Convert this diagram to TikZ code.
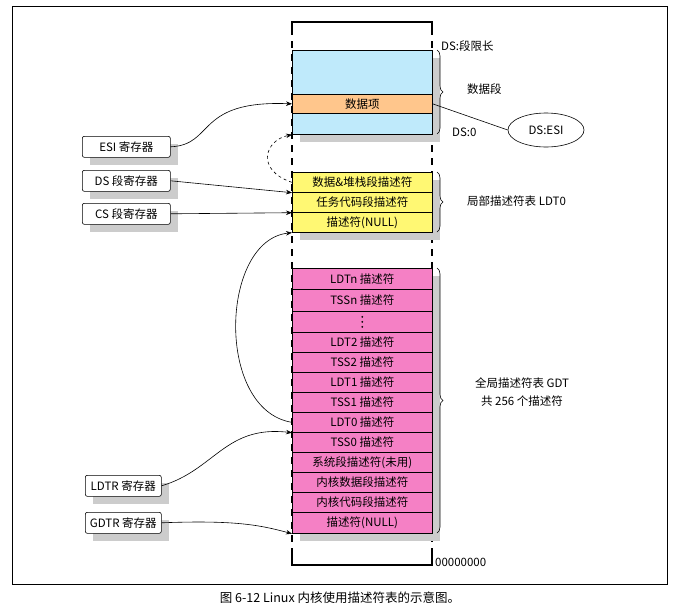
\documentclass[tikz,border=0pt]{standalone}
\usepackage{fontspec}
\setmainfont{Noto Sans CJK SC}
\usetikzlibrary{shapes.geometric,decorations.pathreplacing,arrows.meta}
\begin{document}
\begin{tikzpicture}[x=1pt,y=-1pt,font=\fontsize{11.5}{13}\selectfont,
  shadowc/.style={fill=gray!40,draw=none},
  reg/.style={draw,rounded corners=2pt,fill=white,line width=0.6pt},
  cell/.style={draw,line width=0.7pt,minimum width=140pt,anchor=north west,inner sep=0pt},
  conn/.style={-{Stealth[length=6pt]},line width=0.6pt},
  brc/.style={decorate,decoration={brace,amplitude=6pt},line width=0.6pt}]
\useasboundingbox (0,0) rectangle (683,611);
\draw[line width=0.8pt] (12,6) rectangle (667,584);
\node[font=\fontsize{12.5}{14}\selectfont] (cap) at (340,598) {图 6-12 Linux 内核使用描述符表的示意图。};
% column outline
\draw[line width=1.2pt] (292,28) -- (292,22) -- (432,22) -- (432,28);
\draw[line width=1.2pt,dash pattern=on 7pt off 6pt] (292,28) -- (292,560) (432,28) -- (432,560);
\draw[line width=1.2pt] (292,554) -- (292,565) -- (432,565) -- (432,554);
\node[anchor=west,inner sep=1pt] (zero) at (434,562) {00000000};
% shadows
\fill[shadowc] (300,134) rectangle (440,142);
\fill[shadowc] (432,58) rectangle (440,142);
\fill[shadowc] (300,232) rectangle (440,240);
\fill[shadowc] (432,180) rectangle (440,240);
\fill[shadowc] (300,533) rectangle (440,541);
\fill[shadowc] (432,276) rectangle (440,541);
% data segment
\node[cell,fill=cyan!25,minimum height=44pt] (dtop) at (292,50) {};
\node[cell,fill=orange!45,minimum height=19pt] (ditem) at (292,94) {数据项};
\node[cell,fill=cyan!25,minimum height=21pt] (dbot) at (292,113) {};
% LDT
\node[cell,fill=yellow!55,minimum height=20pt] (l1) at (292,172) {数据\&堆栈段描述符};
\node[cell,fill=yellow!55,minimum height=20pt] (l2) at (292,192) {任务代码段描述符};
\node[cell,fill=yellow!55,minimum height=20pt] (l3) at (292,212) {描述符(NULL)};
% GDT
\def\gcell#1#2#3#4{\node[cell,fill=magenta!50,minimum height=#3pt] (#1) at (292,#2) {#4};}
\gcell{g1}{268}{21}{LDTn 描述符}
\gcell{g2}{289}{22}{TSSn 描述符}
\gcell{g3}{311}{21}{}
\gcell{g4}{332}{20}{LDT2 描述符}
\gcell{g5}{352}{20}{TSS2 描述符}
\gcell{g6}{372}{20}{LDT1 描述符}
\gcell{g7}{392}{20}{TSS1 描述符}
\gcell{g8}{412}{20}{LDT0 描述符}
\gcell{g9}{432}{20}{TSS0 描述符}
\gcell{g10}{452}{20}{系统段描述符(未用)}
\gcell{g11}{472}{20}{内核数据段描述符}
\gcell{g12}{492}{20}{内核代码段描述符}
\gcell{g13}{512}{21}{描述符(NULL)}
\foreach \yy in {-5,0,5} \fill ([yshift=\yy pt]g3.center) circle (1pt);
% registers
\def\reg#1#2#3#4#5{\fill[shadowc] (#2+8,#3+8) rectangle ++(#4,21);
 \node[reg,anchor=north west,minimum width=#4pt,minimum height=21pt,inner sep=0pt] (#1) at (#2,#3) {#5};}
\reg{esi}{82}{136}{88}{ESI 寄存器}
\reg{ds}{82}{170}{88}{DS 段寄存器}
\reg{cs}{82}{203}{88}{CS 段寄存器}
\reg{ldtr}{85}{475}{76}{LDTR 寄存器}
\reg{gdtr}{85}{512}{76}{GDTR 寄存器}
% braces and labels
\draw[brc] (437,50) -- (437,134);
\node[anchor=west,inner sep=1pt] (dsl) at (440,46) {DS:段限长};
\node[anchor=west,inner sep=1pt] (dsz) at (451,132) {DS:0};
\node[anchor=west,inner sep=1pt] (dseg) at (466,89) {数据段};
\draw[brc] (437,172) -- (437,232);
\node[anchor=west,inner sep=1pt] (ldtl) at (466,201) {局部描述符表 LDT0};
\draw[brc] (437,268) -- (437,533);
\node[align=center,font=\fontsize{11.5}{18}\selectfont] (gdtl) at (522,392) {全局描述符表 GDT\\共 256 个描述符};
\node[draw,ellipse,minimum width=76pt,minimum height=34pt,inner sep=0pt,line width=0.6pt] (dsesi) at (546,130) {DS:ESI};
% connectors
\draw[line width=0.6pt] (ditem.east) -- (dsesi.west);
\draw[conn] (esi.east) .. controls (215,145) and (195,100) .. (ditem.west);
\draw[conn] (ds.east) -- (l1.south west);
\draw[conn] (cs.east) -- (l2.south west);
\draw[conn,dashed] (l1.west) .. controls (255,170) and (265,140) .. (dbot.south west);
\draw[conn] (g8.west) .. controls (215,410) and (220,240) .. (l3.south west);
\draw[conn] (ldtr.east) .. controls (215,470) and (225,425) .. (g8.south west);
\draw[conn] (gdtr.east) .. controls (235,520) and (260,525) .. (g13.south west);
\end{tikzpicture}
\end{document}
